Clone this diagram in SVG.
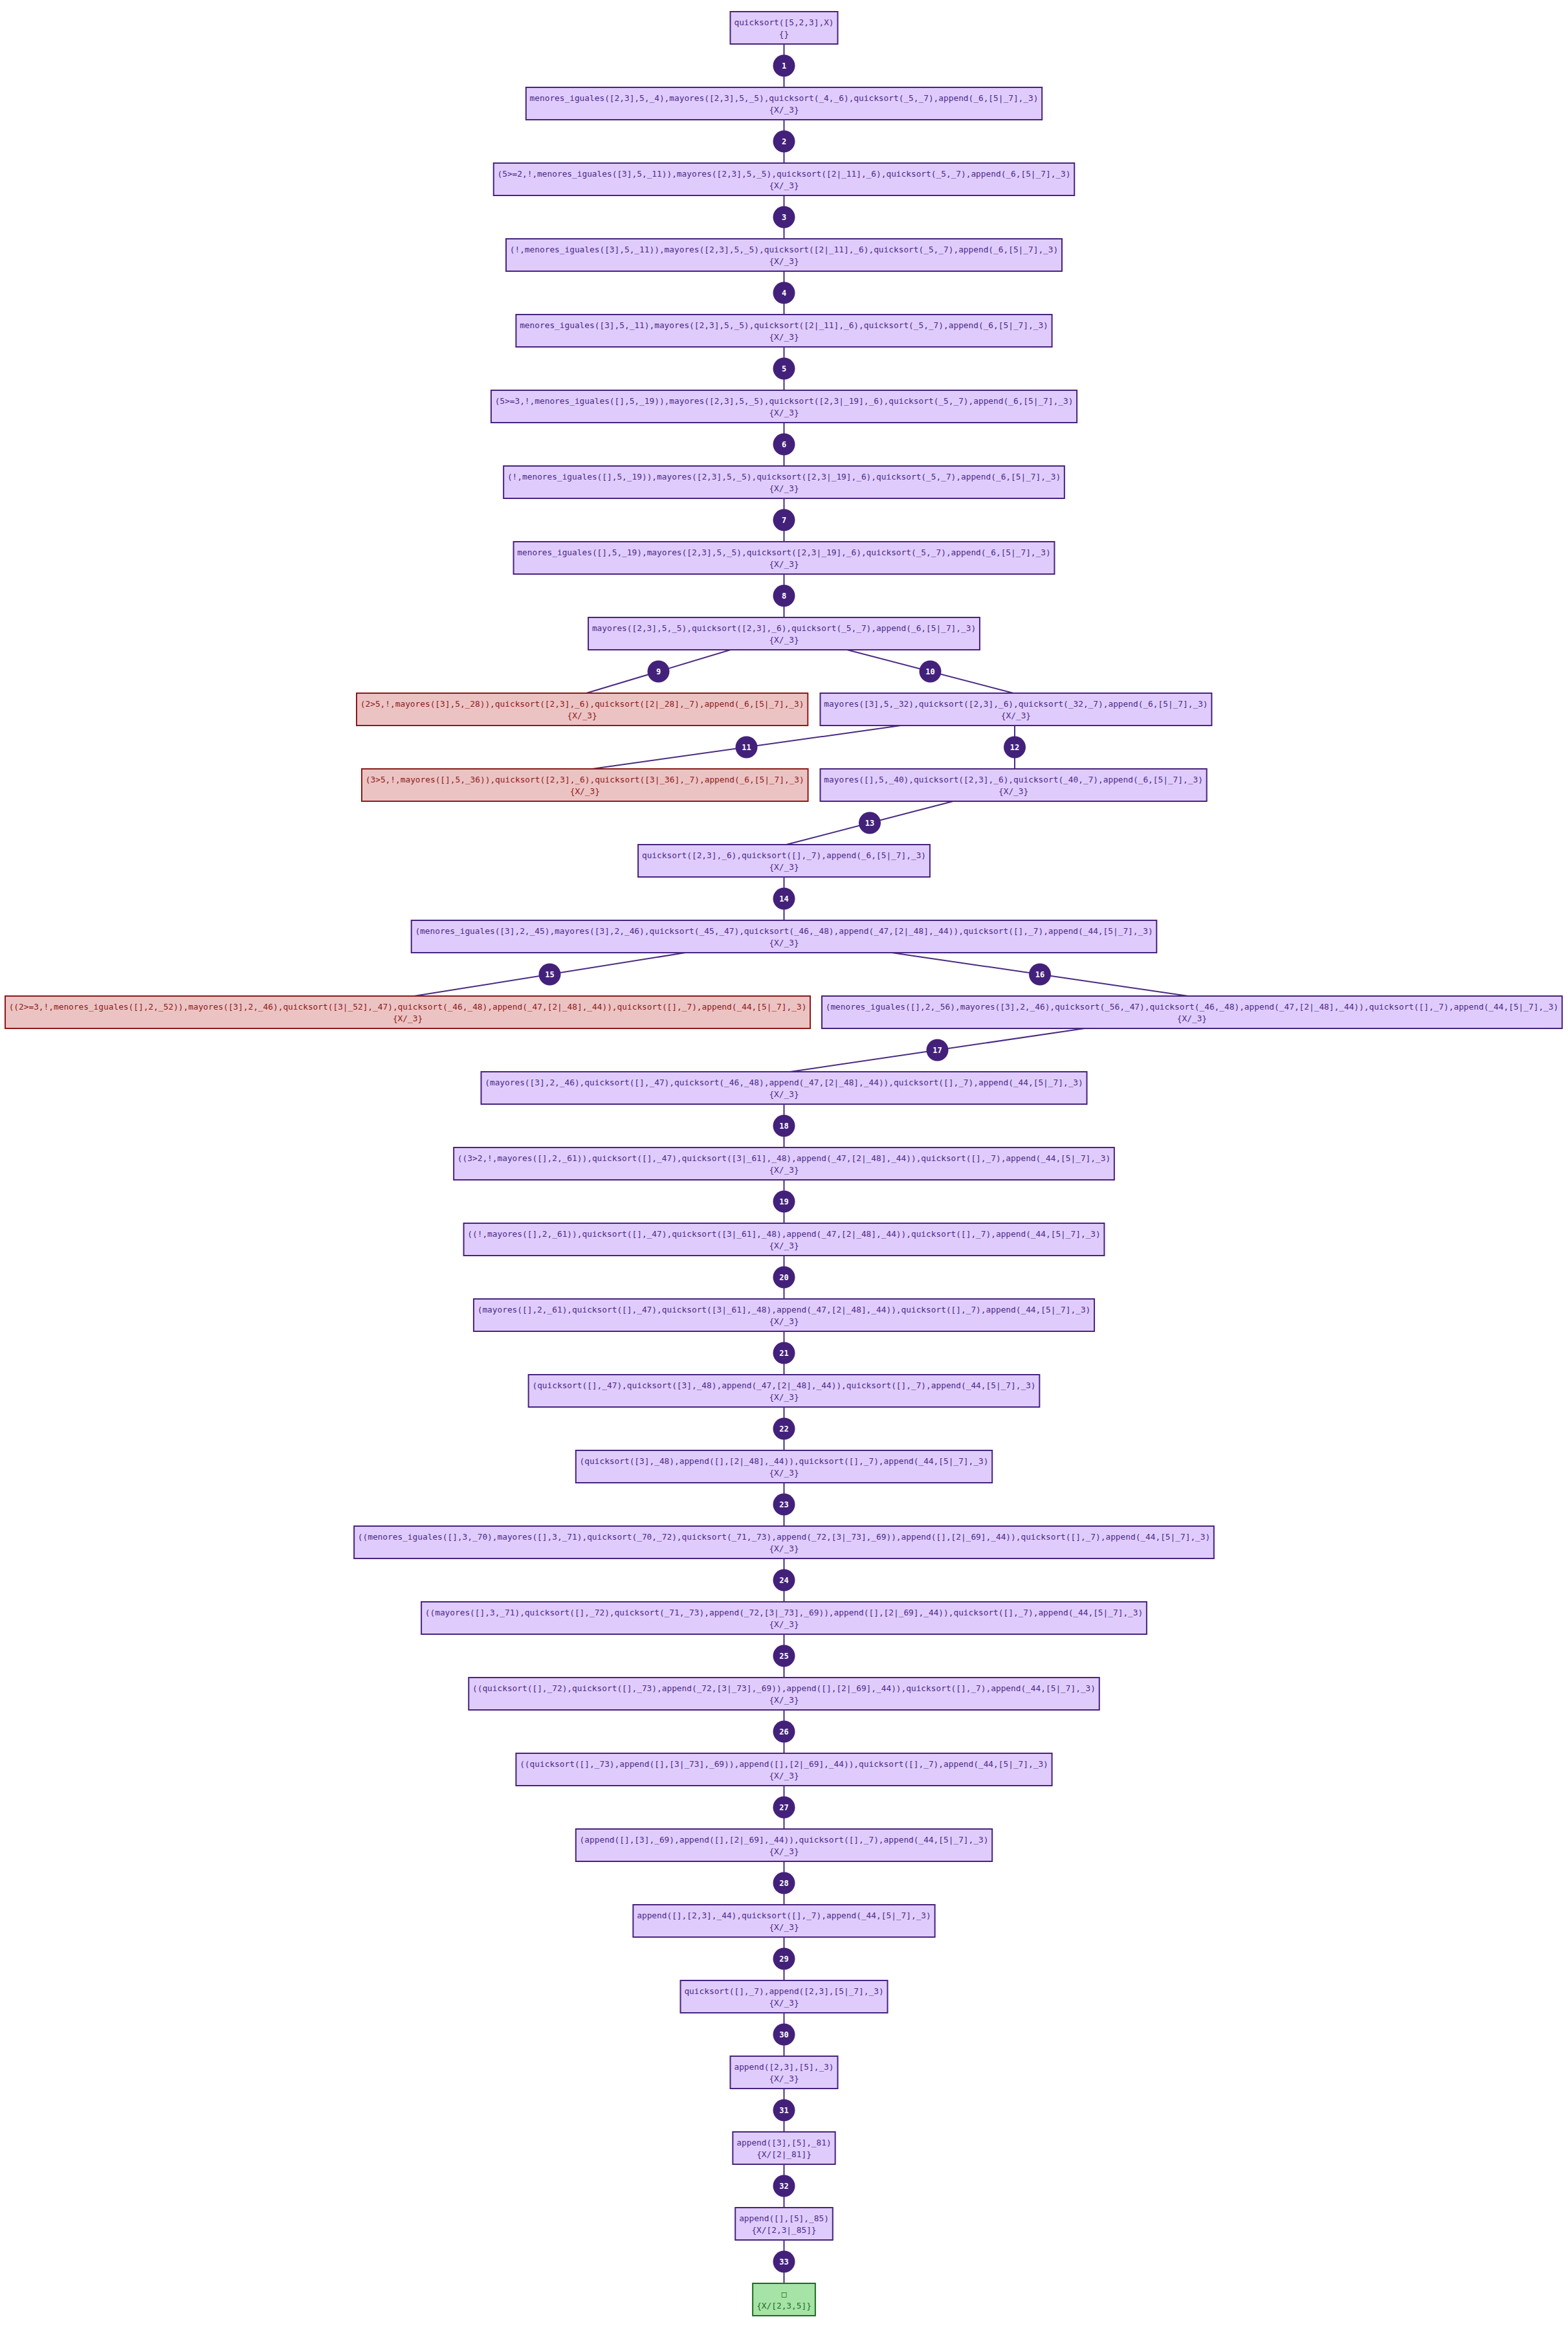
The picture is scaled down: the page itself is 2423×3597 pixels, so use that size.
<svg xmlns="http://www.w3.org/2000/svg" width="2423" height="3597" viewBox="0 0 2423 3597">
<style>
.n rect{fill:#e0ccfc;stroke:#47237f;stroke-width:2}
.n text{font-family:"DejaVu Sans Mono","Liberation Mono",monospace;font-size:12.8px;fill:#4a2a88;text-anchor:middle}
.f rect{fill:#ecc3c3;stroke:#8c1a1a}
.f text{fill:#8c1a1a}
.s rect{fill:#a6e3a6;stroke:#1b6e1b}
.s text{fill:#1b6e1b}
.e line{stroke:#4a2a82;stroke-width:2}
.e circle{fill:#43217a}
.e text{fill:#ffffff;font-family:"DejaVu Sans Mono","Liberation Mono",monospace;font-weight:bold;font-size:12px;text-anchor:middle}
</style>
<rect width="2423" height="3597" fill="#ffffff"/>
<g id="edges" class="e">
<line x1="1211.5" y1="68" x2="1211.5" y2="135"/><circle cx="1211.5" cy="101.5" r="17"/><text x="1211.5" y="105.5">1</text>
<line x1="1211.5" y1="185" x2="1211.5" y2="252"/><circle cx="1211.5" cy="218.5" r="17"/><text x="1211.5" y="222.5">2</text>
<line x1="1211.5" y1="302" x2="1211.5" y2="369"/><circle cx="1211.5" cy="335.5" r="17"/><text x="1211.5" y="339.5">3</text>
<line x1="1211.5" y1="419" x2="1211.5" y2="486"/><circle cx="1211.5" cy="452.5" r="17"/><text x="1211.5" y="456.5">4</text>
<line x1="1211.5" y1="536" x2="1211.5" y2="603"/><circle cx="1211.5" cy="569.5" r="17"/><text x="1211.5" y="573.5">5</text>
<line x1="1211.5" y1="653" x2="1211.5" y2="720"/><circle cx="1211.5" cy="686.5" r="17"/><text x="1211.5" y="690.5">6</text>
<line x1="1211.5" y1="770" x2="1211.5" y2="837"/><circle cx="1211.5" cy="803.5" r="17"/><text x="1211.5" y="807.5">7</text>
<line x1="1211.5" y1="887" x2="1211.5" y2="954"/><circle cx="1211.5" cy="920.5" r="17"/><text x="1211.5" y="924.5">8</text>
<line x1="1129" y1="1004" x2="906" y2="1071"/><circle cx="1017.5" cy="1037.5" r="17"/><text x="1017.5" y="1041.5">9</text>
<line x1="1309" y1="1004" x2="1566" y2="1071"/><circle cx="1437.5" cy="1037.5" r="17"/><text x="1437.5" y="1041.5">10</text>
<line x1="1392" y1="1121" x2="915" y2="1188"/><circle cx="1153.5" cy="1154.5" r="17"/><text x="1153.5" y="1158.5">11</text>
<line x1="1568" y1="1121" x2="1568" y2="1188"/><circle cx="1568" cy="1154.5" r="17"/><text x="1568" y="1158.5">12</text>
<line x1="1473" y1="1238" x2="1215" y2="1305"/><circle cx="1344" cy="1271.5" r="17"/><text x="1344" y="1275.5">13</text>
<line x1="1211.5" y1="1355" x2="1211.5" y2="1422"/><circle cx="1211.5" cy="1388.5" r="17"/><text x="1211.5" y="1392.5">14</text>
<line x1="1059" y1="1472" x2="640" y2="1539"/><circle cx="849.5" cy="1505.5" r="17"/><text x="849.5" y="1509.5">15</text>
<line x1="1378" y1="1472" x2="1836" y2="1539"/><circle cx="1607" cy="1505.5" r="17"/><text x="1607" y="1509.5">16</text>
<line x1="1676" y1="1589" x2="1221" y2="1656"/><circle cx="1448.5" cy="1622.5" r="17"/><text x="1448.5" y="1626.5">17</text>
<line x1="1211.5" y1="1706" x2="1211.5" y2="1773"/><circle cx="1211.5" cy="1739.5" r="17"/><text x="1211.5" y="1743.5">18</text>
<line x1="1211.5" y1="1823" x2="1211.5" y2="1890"/><circle cx="1211.5" cy="1856.5" r="17"/><text x="1211.5" y="1860.5">19</text>
<line x1="1211.5" y1="1940" x2="1211.5" y2="2007"/><circle cx="1211.5" cy="1973.5" r="17"/><text x="1211.5" y="1977.5">20</text>
<line x1="1211.5" y1="2057" x2="1211.5" y2="2124"/><circle cx="1211.5" cy="2090.5" r="17"/><text x="1211.5" y="2094.5">21</text>
<line x1="1211.5" y1="2174" x2="1211.5" y2="2241"/><circle cx="1211.5" cy="2207.5" r="17"/><text x="1211.5" y="2211.5">22</text>
<line x1="1211.5" y1="2291" x2="1211.5" y2="2358"/><circle cx="1211.5" cy="2324.5" r="17"/><text x="1211.5" y="2328.5">23</text>
<line x1="1211.5" y1="2408" x2="1211.5" y2="2475"/><circle cx="1211.5" cy="2441.5" r="17"/><text x="1211.5" y="2445.5">24</text>
<line x1="1211.5" y1="2525" x2="1211.5" y2="2592"/><circle cx="1211.5" cy="2558.5" r="17"/><text x="1211.5" y="2562.5">25</text>
<line x1="1211.5" y1="2642" x2="1211.5" y2="2709"/><circle cx="1211.5" cy="2675.5" r="17"/><text x="1211.5" y="2679.5">26</text>
<line x1="1211.5" y1="2759" x2="1211.5" y2="2826"/><circle cx="1211.5" cy="2792.5" r="17"/><text x="1211.5" y="2796.5">27</text>
<line x1="1211.5" y1="2876" x2="1211.5" y2="2943"/><circle cx="1211.5" cy="2909.5" r="17"/><text x="1211.5" y="2913.5">28</text>
<line x1="1211.5" y1="2993" x2="1211.5" y2="3060"/><circle cx="1211.5" cy="3026.5" r="17"/><text x="1211.5" y="3030.5">29</text>
<line x1="1211.5" y1="3110" x2="1211.5" y2="3177"/><circle cx="1211.5" cy="3143.5" r="17"/><text x="1211.5" y="3147.5">30</text>
<line x1="1211.5" y1="3227" x2="1211.5" y2="3294"/><circle cx="1211.5" cy="3260.5" r="17"/><text x="1211.5" y="3264.5">31</text>
<line x1="1211.5" y1="3344" x2="1211.5" y2="3411"/><circle cx="1211.5" cy="3377.5" r="17"/><text x="1211.5" y="3381.5">32</text>
<line x1="1211.5" y1="3461" x2="1211.5" y2="3528"/><circle cx="1211.5" cy="3494.5" r="17"/><text x="1211.5" y="3498.5">33</text>
</g>
<g id="n0" class="n"><rect x="1128.5" y="18" width="166" height="50"/><text x="1211.5" y="39">quicksort([5,2,3],X)</text><text x="1211.5" y="57">{}</text></g>
<g id="n1" class="n"><rect x="812.8" y="135" width="797.4" height="50"/><text x="1211.5" y="156">menores_iguales([2,3],5,_4),mayores([2,3],5,_5),quicksort(_4,_6),quicksort(_5,_7),append(_6,[5|_7],_3)</text><text x="1211.5" y="174">{X/_3}</text></g>
<g id="n2" class="n"><rect x="762.75" y="252" width="897.5" height="50"/><text x="1211.5" y="273">(5&gt;=2,!,menores_iguales([3],5,_11)),mayores([2,3],5,_5),quicksort([2|_11],_6),quicksort(_5,_7),append(_6,[5|_7],_3)</text><text x="1211.5" y="291">{X/_3}</text></g>
<g id="n3" class="n"><rect x="782" y="369" width="859" height="50"/><text x="1211.5" y="390">(!,menores_iguales([3],5,_11)),mayores([2,3],5,_5),quicksort([2|_11],_6),quicksort(_5,_7),append(_6,[5|_7],_3)</text><text x="1211.5" y="408">{X/_3}</text></g>
<g id="n4" class="n"><rect x="797.4" y="486" width="828.2" height="50"/><text x="1211.5" y="507">menores_iguales([3],5,_11),mayores([2,3],5,_5),quicksort([2|_11],_6),quicksort(_5,_7),append(_6,[5|_7],_3)</text><text x="1211.5" y="525">{X/_3}</text></g>
<g id="n5" class="n"><rect x="758.9" y="603" width="905.2" height="50"/><text x="1211.5" y="624">(5&gt;=3,!,menores_iguales([],5,_19)),mayores([2,3],5,_5),quicksort([2,3|_19],_6),quicksort(_5,_7),append(_6,[5|_7],_3)</text><text x="1211.5" y="642">{X/_3}</text></g>
<g id="n6" class="n"><rect x="778.15" y="720" width="866.7" height="50"/><text x="1211.5" y="741">(!,menores_iguales([],5,_19)),mayores([2,3],5,_5),quicksort([2,3|_19],_6),quicksort(_5,_7),append(_6,[5|_7],_3)</text><text x="1211.5" y="759">{X/_3}</text></g>
<g id="n7" class="n"><rect x="793.55" y="837" width="835.9" height="50"/><text x="1211.5" y="858">menores_iguales([],5,_19),mayores([2,3],5,_5),quicksort([2,3|_19],_6),quicksort(_5,_7),append(_6,[5|_7],_3)</text><text x="1211.5" y="876">{X/_3}</text></g>
<g id="n8" class="n"><rect x="909.05" y="954" width="604.9" height="50"/><text x="1211.5" y="975">mayores([2,3],5,_5),quicksort([2,3],_6),quicksort(_5,_7),append(_6,[5|_7],_3)</text><text x="1211.5" y="993">{X/_3}</text></g>
<g id="n9" class="n f"><rect x="551" y="1071" width="697.3" height="50"/><text x="899.65" y="1092">(2&gt;5,!,mayores([3],5,_28)),quicksort([2,3],_6),quicksort([2|_28],_7),append(_6,[5|_7],_3)</text><text x="899.65" y="1110">{X/_3}</text></g>
<g id="n10" class="n"><rect x="1267.5" y="1071" width="604.9" height="50"/><text x="1569.95" y="1092">mayores([3],5,_32),quicksort([2,3],_6),quicksort(_32,_7),append(_6,[5|_7],_3)</text><text x="1569.95" y="1110">{X/_3}</text></g>
<g id="n11" class="n f"><rect x="559" y="1188" width="689.6" height="50"/><text x="903.8" y="1209">(3&gt;5,!,mayores([],5,_36)),quicksort([2,3],_6),quicksort([3|_36],_7),append(_6,[5|_7],_3)</text><text x="903.8" y="1227">{X/_3}</text></g>
<g id="n12" class="n"><rect x="1267.5" y="1188" width="597.2" height="50"/><text x="1566.1" y="1209">mayores([],5,_40),quicksort([2,3],_6),quicksort(_40,_7),append(_6,[5|_7],_3)</text><text x="1566.1" y="1227">{X/_3}</text></g>
<g id="n13" class="n"><rect x="986.05" y="1305" width="450.9" height="50"/><text x="1211.5" y="1326">quicksort([2,3],_6),quicksort([],_7),append(_6,[5|_7],_3)</text><text x="1211.5" y="1344">{X/_3}</text></g>
<g id="n14" class="n"><rect x="635.7" y="1422" width="1151.6" height="50"/><text x="1211.5" y="1443">(menores_iguales([3],2,_45),mayores([3],2,_46),quicksort(_45,_47),quicksort(_46,_48),append(_47,[2|_48],_44)),quicksort([],_7),append(_44,[5|_7],_3)</text><text x="1211.5" y="1461">{X/_3}</text></g>
<g id="n15" class="n f"><rect x="8" y="1539" width="1244" height="50"/><text x="630" y="1560">((2&gt;=3,!,menores_iguales([],2,_52)),mayores([3],2,_46),quicksort([3|_52],_47),quicksort(_46,_48),append(_47,[2|_48],_44)),quicksort([],_7),append(_44,[5|_7],_3)</text><text x="630" y="1578">{X/_3}</text></g>
<g id="n16" class="n"><rect x="1270" y="1539" width="1143.9" height="50"/><text x="1841.95" y="1560">(menores_iguales([],2,_56),mayores([3],2,_46),quicksort(_56,_47),quicksort(_46,_48),append(_47,[2|_48],_44)),quicksort([],_7),append(_44,[5|_7],_3)</text><text x="1841.95" y="1578">{X/_3}</text></g>
<g id="n17" class="n"><rect x="743.5" y="1656" width="936" height="50"/><text x="1211.5" y="1677">(mayores([3],2,_46),quicksort([],_47),quicksort(_46,_48),append(_47,[2|_48],_44)),quicksort([],_7),append(_44,[5|_7],_3)</text><text x="1211.5" y="1695">{X/_3}</text></g>
<g id="n18" class="n"><rect x="701.15" y="1773" width="1020.7" height="50"/><text x="1211.5" y="1794">((3&gt;2,!,mayores([],2,_61)),quicksort([],_47),quicksort([3|_61],_48),append(_47,[2|_48],_44)),quicksort([],_7),append(_44,[5|_7],_3)</text><text x="1211.5" y="1812">{X/_3}</text></g>
<g id="n19" class="n"><rect x="716.55" y="1890" width="989.9" height="50"/><text x="1211.5" y="1911">((!,mayores([],2,_61)),quicksort([],_47),quicksort([3|_61],_48),append(_47,[2|_48],_44)),quicksort([],_7),append(_44,[5|_7],_3)</text><text x="1211.5" y="1929">{X/_3}</text></g>
<g id="n20" class="n"><rect x="731.95" y="2007" width="959.1" height="50"/><text x="1211.5" y="2028">(mayores([],2,_61),quicksort([],_47),quicksort([3|_61],_48),append(_47,[2|_48],_44)),quicksort([],_7),append(_44,[5|_7],_3)</text><text x="1211.5" y="2046">{X/_3}</text></g>
<g id="n21" class="n"><rect x="816.65" y="2124" width="789.7" height="50"/><text x="1211.5" y="2145">(quicksort([],_47),quicksort([3],_48),append(_47,[2|_48],_44)),quicksort([],_7),append(_44,[5|_7],_3)</text><text x="1211.5" y="2163">{X/_3}</text></g>
<g id="n22" class="n"><rect x="889.8" y="2241" width="643.4" height="50"/><text x="1211.5" y="2262">(quicksort([3],_48),append([],[2|_48],_44)),quicksort([],_7),append(_44,[5|_7],_3)</text><text x="1211.5" y="2280">{X/_3}</text></g>
<g id="n23" class="n"><rect x="547.15" y="2358" width="1328.7" height="50"/><text x="1211.5" y="2379">((menores_iguales([],3,_70),mayores([],3,_71),quicksort(_70,_72),quicksort(_71,_73),append(_72,[3|_73],_69)),append([],[2|_69],_44)),quicksort([],_7),append(_44,[5|_7],_3)</text><text x="1211.5" y="2397">{X/_3}</text></g>
<g id="n24" class="n"><rect x="651.1" y="2475" width="1120.8" height="50"/><text x="1211.5" y="2496">((mayores([],3,_71),quicksort([],_72),quicksort(_71,_73),append(_72,[3|_73],_69)),append([],[2|_69],_44)),quicksort([],_7),append(_44,[5|_7],_3)</text><text x="1211.5" y="2514">{X/_3}</text></g>
<g id="n25" class="n"><rect x="724.25" y="2592" width="974.5" height="50"/><text x="1211.5" y="2613">((quicksort([],_72),quicksort([],_73),append(_72,[3|_73],_69)),append([],[2|_69],_44)),quicksort([],_7),append(_44,[5|_7],_3)</text><text x="1211.5" y="2631">{X/_3}</text></g>
<g id="n26" class="n"><rect x="797.4" y="2709" width="828.2" height="50"/><text x="1211.5" y="2730">((quicksort([],_73),append([],[3|_73],_69)),append([],[2|_69],_44)),quicksort([],_7),append(_44,[5|_7],_3)</text><text x="1211.5" y="2748">{X/_3}</text></g>
<g id="n27" class="n"><rect x="889.8" y="2826" width="643.4" height="50"/><text x="1211.5" y="2847">(append([],[3],_69),append([],[2|_69],_44)),quicksort([],_7),append(_44,[5|_7],_3)</text><text x="1211.5" y="2865">{X/_3}</text></g>
<g id="n28" class="n"><rect x="978.35" y="2943" width="466.3" height="50"/><text x="1211.5" y="2964">append([],[2,3],_44),quicksort([],_7),append(_44,[5|_7],_3)</text><text x="1211.5" y="2982">{X/_3}</text></g>
<g id="n29" class="n"><rect x="1051.5" y="3060" width="320" height="50"/><text x="1211.5" y="3081">quicksort([],_7),append([2,3],[5|_7],_3)</text><text x="1211.5" y="3099">{X/_3}</text></g>
<g id="n30" class="n"><rect x="1128.5" y="3177" width="166" height="50"/><text x="1211.5" y="3198">append([2,3],[5],_3)</text><text x="1211.5" y="3216">{X/_3}</text></g>
<g id="n31" class="n"><rect x="1132.35" y="3294" width="158.3" height="50"/><text x="1211.5" y="3315">append([3],[5],_81)</text><text x="1211.5" y="3333">{X/[2|_81]}</text></g>
<g id="n32" class="n"><rect x="1136.2" y="3411" width="150.6" height="50"/><text x="1211.5" y="3432">append([],[5],_85)</text><text x="1211.5" y="3450">{X/[2,3|_85]}</text></g>
<g id="n33" class="n s"><rect x="1163.15" y="3528" width="96.7" height="50"/><text x="1211.5" y="3549">□</text><text x="1211.5" y="3567">{X/[2,3,5]}</text></g>
</svg>
